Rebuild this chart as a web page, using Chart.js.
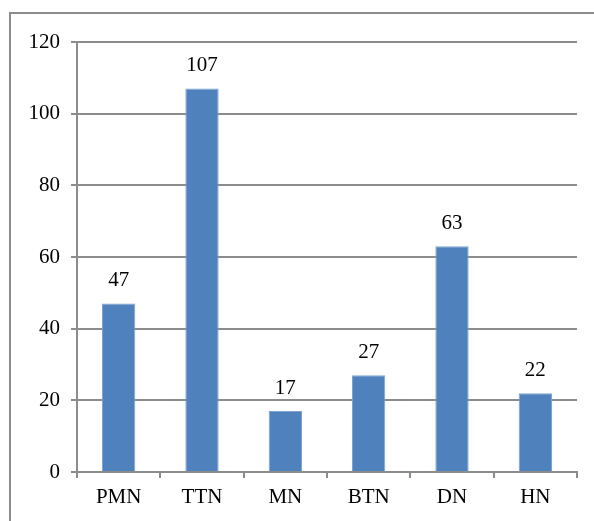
<!DOCTYPE html>
<html>
<head>
<meta charset="utf-8">
<script src="https://cdn.jsdelivr.net/npm/chart.js@4/dist/chart.umd.min.js"></script>
<style>
  html, body { margin: 0; padding: 0; background: #fff; overflow: hidden; }
  #wrap { position: relative; width: 594px; height: 521px; }
  #frame { position: absolute; left: 9px; top: 12px; width: 700px; height: 700px;
           border: 2px solid #8c8c8c; box-sizing: border-box; pointer-events: none; }
  canvas { position: absolute; left: 0; top: 0; }
</style>
</head>
<body>
<div id="wrap">
  <div id="frame"></div>
  <canvas id="c" width="594" height="521"></canvas>
</div>
<script>
const categories = ['PMN', 'TTN', 'MN', 'BTN', 'DN', 'HN'];
const counts = [47, 107, 17, 27, 63, 22];
const yTicks = [0, 20, 40, 60, 80, 100, 120];

const FONT = "'Liberation Serif', 'Times New Roman', serif";
const GRID = '#8c8c8c';

// Value labels above each bar
const valueLabels = {
  id: 'valueLabels',
  afterDatasetsDraw(chart) {
    const ctx = chart.ctx;
    const meta = chart.getDatasetMeta(0);
    ctx.save();
    ctx.font = '21px ' + FONT;
    ctx.fillStyle = '#000';
    ctx.textAlign = 'center';
    ctx.textBaseline = 'middle';
    meta.data.forEach((bar, i) => {
      ctx.fillText(String(counts[i]), bar.x, bar.y - 23);
    });
    ctx.restore();
  }
};

new Chart(document.getElementById('c'), {
  type: 'bar',
  data: {
    labels: categories,
    datasets: [{
      data: counts,
      backgroundColor: '#4f81bd',
      borderColor: '#7ea3d3',
      borderWidth: 1,
      categoryPercentage: 1,
      barPercentage: 0.4
    }]
  },
  options: {
    responsive: false,
    animation: false,
    layout: { padding: { left: 0, right: 17, top: 42, bottom: 0 } },
    plugins: { legend: { display: false }, tooltip: { enabled: false } },
    scales: {
      x: {
        grid: { offset: true, drawOnChartArea: false, drawTicks: true, tickLength: 6, color: GRID, lineWidth: 2 },
        border: { color: GRID, width: 2 },
        ticks: { color: '#000', font: { family: FONT, size: 21 }, padding: 7 },
        afterFit(scale) { scale.height = 49; }
      },
      y: {
        min: 0, max: 120,
        afterBuildTicks(scale) { scale.ticks = yTicks.map(v => ({ value: v })); },
        grid: { color: GRID, lineWidth: 2, tickLength: 6 },
        border: { color: GRID, width: 2 },
        ticks: { color: '#000', font: { family: FONT, size: 21 }, padding: 11 },
        afterFit(scale) { scale.width = 77; }
      }
    }
  },
  plugins: [valueLabels]
});
</script>
</body>
</html>
